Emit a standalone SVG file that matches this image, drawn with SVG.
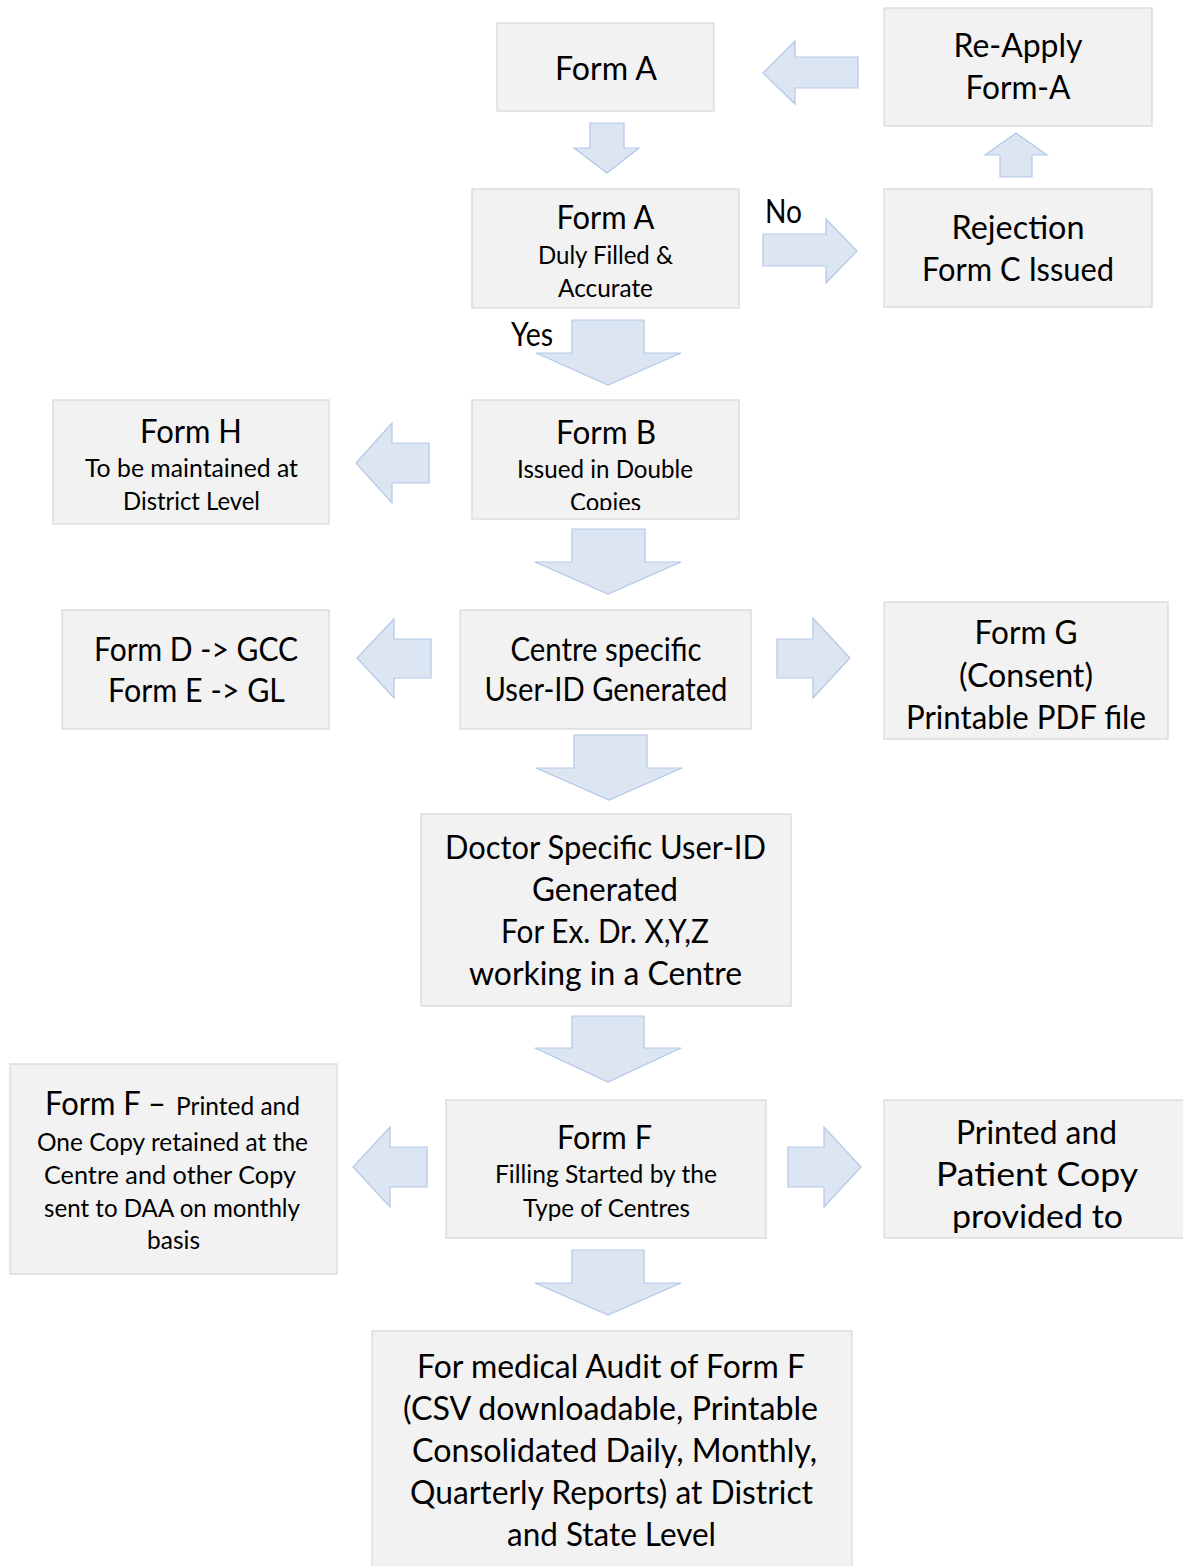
<svg xmlns="http://www.w3.org/2000/svg" width="1183" height="1566" viewBox="0 0 1183 1566">
<style>
.box{fill:#F2F2F2;stroke:#D9D9D9;stroke-width:1.3}
.arr{fill:#DCE6F2;stroke:#B4C7E7;stroke-width:1.2}
text{font-family:Lato,"Open Sans","Liberation Sans",sans-serif;font-weight:400;fill:#000;text-anchor:middle}
.L{font-size:32px}
.S{font-size:24.5px}
.st{text-anchor:start}
</style>
<defs>
<clipPath id="clipB"><rect x="472" y="400" width="267" height="110"/></clipPath>
<clipPath id="clipP"><rect x="884" y="1100" width="306" height="133"/></clipPath>
</defs>
<rect width="1183" height="1566" fill="#FFFFFF"/>
<g id="connectors">
<polygon class="arr" points="590,123 624,123 624,148 639,148 607,173 574,148 590,148"/>
<polygon class="arr" points="572,320 644,320 644,353 681,353 608,385 536,353 572,353"/>
<polygon class="arr" points="572,529 645,529 645,562 681,562 608,594 535,562 572,562"/>
<polygon class="arr" points="574,735 647,735 647,768 682,768 609,800 536,768 574,768"/>
<polygon class="arr" points="572,1016 644,1016 644,1048 681,1048 608,1082 535,1048 572,1048"/>
<polygon class="arr" points="572,1250 644,1250 644,1283 681,1283 608,1315 535,1283 572,1283"/>
<polygon class="arr" points="858,57 795,57 795,41 763,73 795,104 795,88 858,88"/>
<polygon class="arr" points="429,443 392,443 392,423 356,463 392,503 392,483 429,483"/>
<polygon class="arr" points="431,639 394,639 394,619 357,658 394,698 394,678 431,678"/>
<polygon class="arr" points="427,1147 390,1147 390,1127 353,1167 390,1207 390,1187 427,1187"/>
<polygon class="arr" points="763,234 826,234 826,219 857,251 826,283 826,266 763,266"/>
<polygon class="arr" points="777,639 813,639 813,618 850,658 813,698 813,678 777,678"/>
<polygon class="arr" points="788,1147 824,1147 824,1127 861,1167 824,1207 824,1187 788,1187"/>
<polygon class="arr" points="1000,177 1000,155 985,155 1016,133 1047,155 1032,155 1032,177"/>
<text class="L" x="783.5" y="223" textLength="37" lengthAdjust="spacingAndGlyphs">No</text>
<text class="L" x="532" y="346" textLength="42" lengthAdjust="spacingAndGlyphs">Yes</text>
</g>
<g id="formA">
<rect class="box" x="497" y="23" width="217" height="88"/>
<text class="L" x="606" y="80" textLength="102" lengthAdjust="spacingAndGlyphs">Form A</text>
</g>
<g id="reapply">
<rect class="box" x="884" y="8" width="268" height="118"/>
<text class="L" x="1018" y="57" textLength="129" lengthAdjust="spacingAndGlyphs">Re-Apply</text>
<text class="L" x="1018" y="99" textLength="105" lengthAdjust="spacingAndGlyphs">Form-A</text>
</g>
<g id="formA-duly">
<rect class="box" x="472" y="189" width="267" height="119"/>
<text class="L" x="605.5" y="229" textLength="98" lengthAdjust="spacingAndGlyphs">Form A</text>
<text class="S" x="605.5" y="264" textLength="135" lengthAdjust="spacingAndGlyphs">Duly Filled &amp;</text>
<text class="S" x="605.5" y="297" textLength="95" lengthAdjust="spacingAndGlyphs">Accurate</text>
</g>
<g id="rejection">
<rect class="box" x="884" y="189" width="268" height="118"/>
<text class="L" x="1018" y="239" textLength="133" lengthAdjust="spacingAndGlyphs">Rejection</text>
<text class="L" x="1018" y="281" textLength="192" lengthAdjust="spacingAndGlyphs">Form C Issued</text>
</g>
<g id="formB">
<rect class="box" x="472" y="400" width="267" height="119"/>
<g clip-path="url(#clipB)">
<text class="L" x="606" y="444" textLength="100" lengthAdjust="spacingAndGlyphs">Form B</text>
<text class="S" x="605" y="478" textLength="176" lengthAdjust="spacingAndGlyphs">Issued in Double</text>
<text class="S" x="605.5" y="511" textLength="71" lengthAdjust="spacingAndGlyphs">Copies</text>
</g>
</g>
<g id="formH">
<rect class="box" x="53" y="400" width="276" height="124"/>
<text class="L" x="191" y="443" textLength="102" lengthAdjust="spacingAndGlyphs">Form H</text>
<text class="S" x="191.5" y="477" textLength="213" lengthAdjust="spacingAndGlyphs">To be maintained at</text>
<text class="S" x="191.5" y="510" textLength="137" lengthAdjust="spacingAndGlyphs">District Level</text>
</g>
<g id="formDE">
<rect class="box" x="62" y="610" width="267" height="119"/>
<text class="L" x="196" y="661" textLength="204" lengthAdjust="spacingAndGlyphs">Form D -&gt; GCC</text>
<text class="L" x="196.5" y="702" textLength="177" lengthAdjust="spacingAndGlyphs">Form E -&gt; GL</text>
</g>
<g id="centre">
<rect class="box" x="460" y="610" width="291" height="119"/>
<text class="L" x="606" y="661" textLength="191" lengthAdjust="spacingAndGlyphs">Centre specific</text>
<text class="L" x="606" y="701" textLength="243" lengthAdjust="spacingAndGlyphs">User-ID Generated</text>
</g>
<g id="formG">
<rect class="box" x="884" y="602" width="284" height="137"/>
<text class="L" x="1026" y="644" textLength="103" lengthAdjust="spacingAndGlyphs">Form G</text>
<text class="L" x="1026" y="687" textLength="134" lengthAdjust="spacingAndGlyphs">(Consent)</text>
<text class="L" x="1026" y="729" textLength="240" lengthAdjust="spacingAndGlyphs">Printable PDF file</text>
</g>
<g id="doctor">
<rect class="box" x="421" y="814" width="370" height="192"/>
<text class="L" x="605.5" y="859" textLength="321" lengthAdjust="spacingAndGlyphs">Doctor Specific User-ID</text>
<text class="L" x="605" y="901" textLength="146" lengthAdjust="spacingAndGlyphs">Generated</text>
<text class="L" x="605" y="943" textLength="208" lengthAdjust="spacingAndGlyphs">For Ex. Dr. X,Y,Z</text>
<text class="L" x="605.5" y="985" textLength="273" lengthAdjust="spacingAndGlyphs">working in a Centre</text>
</g>
<g id="formF-left">
<rect class="box" x="10" y="1064" width="327" height="210"/>
<text class="L st" x="45" y="1115" textLength="121" lengthAdjust="spacingAndGlyphs">Form F –</text>
<text class="S st" x="176" y="1115" textLength="124" lengthAdjust="spacingAndGlyphs">Printed and</text>
<text class="S" x="172.5" y="1151" textLength="271" lengthAdjust="spacingAndGlyphs">One Copy retained at the</text>
<text class="S" x="170" y="1184" textLength="252" lengthAdjust="spacingAndGlyphs">Centre and other Copy</text>
<text class="S" x="172" y="1217" textLength="256" lengthAdjust="spacingAndGlyphs">sent to DAA on monthly</text>
<text class="S" x="173.5" y="1249" textLength="53" lengthAdjust="spacingAndGlyphs">basis</text>
</g>
<g id="formF">
<rect class="box" x="446" y="1100" width="320" height="138"/>
<text class="L" x="604.5" y="1149" textLength="95" lengthAdjust="spacingAndGlyphs">Form F</text>
<text class="S" x="606" y="1183" textLength="222" lengthAdjust="spacingAndGlyphs">Filling Started by the</text>
<text class="S" x="606.5" y="1217" textLength="167" lengthAdjust="spacingAndGlyphs">Type of Centres</text>
</g>
<g id="patient">
<rect class="box" x="884" y="1100" width="306" height="138"/>
<g clip-path="url(#clipP)">
<text class="L" x="1036.5" y="1144" textLength="161" lengthAdjust="spacingAndGlyphs">Printed and</text>
<text class="L" x="1037" y="1186" textLength="202" lengthAdjust="spacingAndGlyphs">Patient Copy</text>
<text class="L" x="1037.5" y="1228" textLength="171" lengthAdjust="spacingAndGlyphs">provided to</text>
</g>
</g>
<g id="audit">
<rect class="box" x="372" y="1331" width="480" height="249"/>
<text class="L" x="611" y="1378" textLength="388" lengthAdjust="spacingAndGlyphs">For medical Audit of Form F</text>
<text class="L" x="610.5" y="1420" textLength="415" lengthAdjust="spacingAndGlyphs">(CSV downloadable, Printable</text>
<text class="L" x="614.5" y="1462" textLength="405" lengthAdjust="spacingAndGlyphs">Consolidated Daily, Monthly,</text>
<text class="L" x="611.5" y="1504" textLength="403" lengthAdjust="spacingAndGlyphs">Quarterly Reports) at District</text>
<text class="L" x="611.5" y="1546" textLength="209" lengthAdjust="spacingAndGlyphs">and State Level</text>
</g>
</svg>
